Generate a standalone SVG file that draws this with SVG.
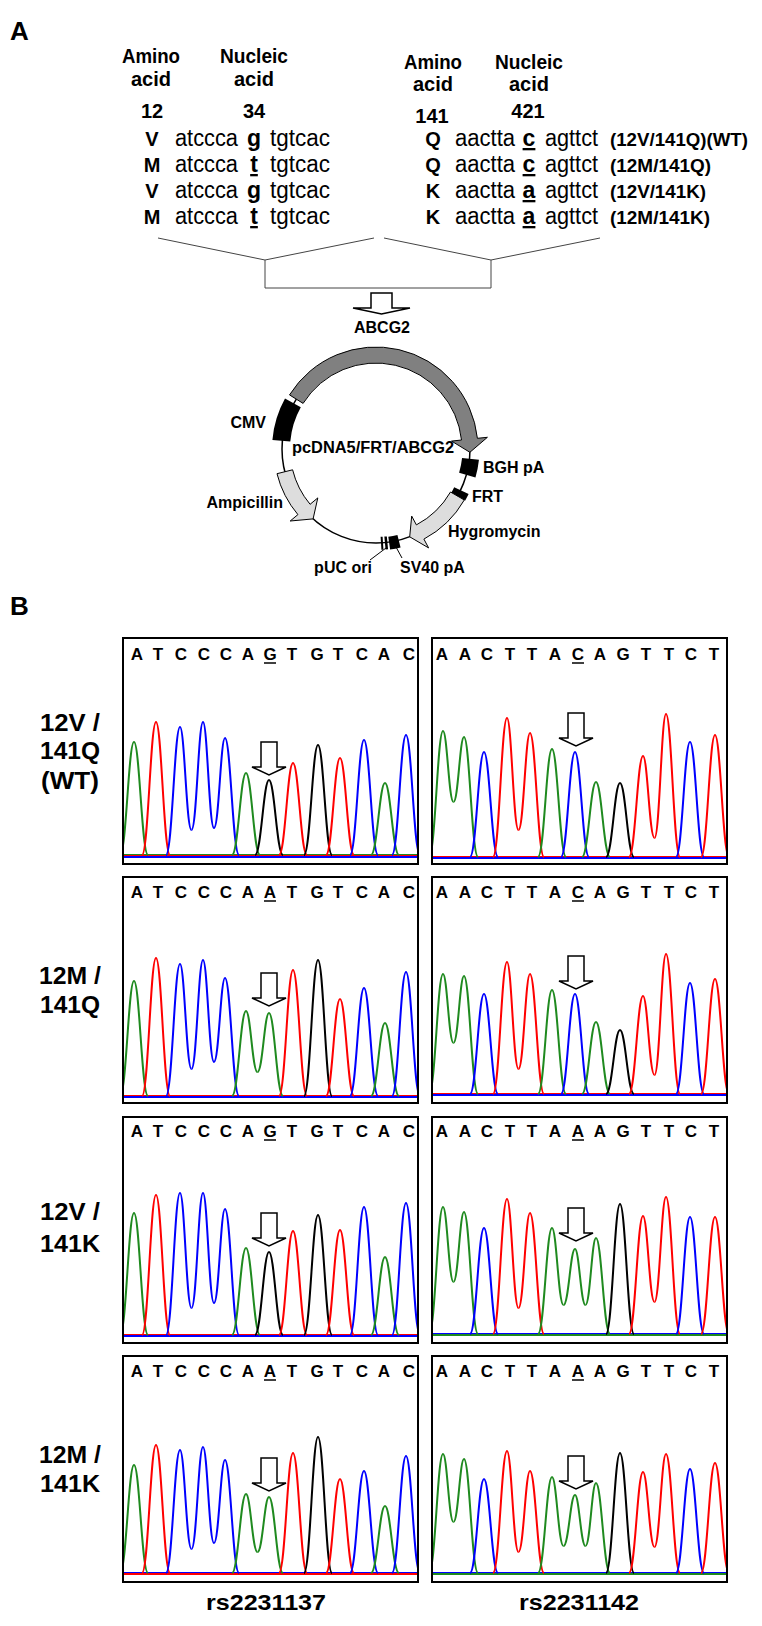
<svg xmlns="http://www.w3.org/2000/svg" xmlns:xlink="http://www.w3.org/1999/xlink" width="762" height="1626" viewBox="0 0 762 1626">
<style>
text{font-family:"Liberation Sans",Arial,sans-serif;fill:#000}
.b{font-weight:bold}
.hd{font-size:20px;font-weight:bold;text-anchor:middle}
.sq{font-size:23px}
.ul{font-size:23px;font-weight:bold;text-decoration:underline;text-anchor:middle}
.lab{font-size:19px;font-weight:bold}
.pl{font-size:16px;font-weight:bold}
.seq{font-size:17px;font-weight:bold;text-anchor:middle}
.side{font-size:24px;font-weight:bold;text-anchor:middle}
.box{fill:none;stroke:#000;stroke-width:2}
.g{stroke:#1f8a1f}.r{stroke:#f00}.u{stroke:#00f}.k{stroke:#000}
.tr use{fill:none;stroke-width:2}
.br{fill:none;stroke:#444;stroke-width:1}
</style>
<defs>
<path id="P" d="M -1,0 C -0.55,0 -0.4,-1 0,-1 C 0.4,-1 0.55,0 1,0" vector-effect="non-scaling-stroke"/>
<path id="L" d="M -1,0 C -0.55,0 -0.4,-1 0,-1" vector-effect="non-scaling-stroke"/>
<path id="R" d="M 0,-1 C 0.4,-1 0.55,0 1,0" vector-effect="non-scaling-stroke"/>
<path id="arr" d="M -8,0 H 8 V 25 H 17 L 0,33 L -17,25 H -8 Z" fill="#fff" stroke="#000" stroke-width="1.5"/>
<clipPath id="c1l"><rect x="124" y="639" width="293" height="224"/></clipPath>
<clipPath id="c1r"><rect x="433" y="639" width="293" height="224"/></clipPath>
<clipPath id="c2l"><rect x="124" y="878" width="293" height="224"/></clipPath>
<clipPath id="c2r"><rect x="433" y="878" width="293" height="224"/></clipPath>
<clipPath id="c3l"><rect x="124" y="1118" width="293" height="224"/></clipPath>
<clipPath id="c3r"><rect x="433" y="1118" width="293" height="224"/></clipPath>
<clipPath id="c4l"><rect x="124" y="1357" width="293" height="224"/></clipPath>
<clipPath id="c4r"><rect x="433" y="1357" width="293" height="224"/></clipPath>
</defs>

<!-- Panel A -->
<text x="10" y="40" class="b" font-size="26">A</text>
<g id="headers">
<text x="151" y="63" class="hd" textLength="58" lengthAdjust="spacingAndGlyphs">Amino</text>
<text x="151" y="86" class="hd">acid</text>
<text x="254" y="63" class="hd" textLength="68" lengthAdjust="spacingAndGlyphs">Nucleic</text>
<text x="254" y="86" class="hd">acid</text>
<text x="433" y="69" class="hd" textLength="58" lengthAdjust="spacingAndGlyphs">Amino</text>
<text x="433" y="91" class="hd">acid</text>
<text x="529" y="69" class="hd" textLength="68" lengthAdjust="spacingAndGlyphs">Nucleic</text>
<text x="529" y="91" class="hd">acid</text>
<text x="152" y="118" class="hd">12</text>
<text x="254" y="118" class="hd">34</text>
<text x="432" y="123" class="hd">141</text>
<text x="528" y="118" class="hd">421</text>
</g>
<g id="seq-left">
<text x="152" y="146" class="hd" font-size="22">V</text>
<text x="175" y="146" class="sq" textLength="63" lengthAdjust="spacingAndGlyphs">atccca</text>
<text x="254" y="146" class="ul">g</text>
<text x="270" y="146" class="sq" textLength="60" lengthAdjust="spacingAndGlyphs">tgtcac</text>
<text x="152" y="172" class="hd" font-size="22">M</text>
<text x="175" y="172" class="sq" textLength="63" lengthAdjust="spacingAndGlyphs">atccca</text>
<text x="254" y="172" class="ul">t</text>
<text x="270" y="172" class="sq" textLength="60" lengthAdjust="spacingAndGlyphs">tgtcac</text>
<text x="152" y="198" class="hd" font-size="22">V</text>
<text x="175" y="198" class="sq" textLength="63" lengthAdjust="spacingAndGlyphs">atccca</text>
<text x="254" y="198" class="ul">g</text>
<text x="270" y="198" class="sq" textLength="60" lengthAdjust="spacingAndGlyphs">tgtcac</text>
<text x="152" y="224" class="hd" font-size="22">M</text>
<text x="175" y="224" class="sq" textLength="63" lengthAdjust="spacingAndGlyphs">atccca</text>
<text x="254" y="224" class="ul">t</text>
<text x="270" y="224" class="sq" textLength="60" lengthAdjust="spacingAndGlyphs">tgtcac</text>
</g>
<g id="seq-right">
<text x="433" y="146" class="hd" font-size="22">Q</text>
<text x="455" y="146" class="sq" textLength="60" lengthAdjust="spacingAndGlyphs">aactta</text>
<text x="529" y="146" class="ul">c</text>
<text x="545" y="146" class="sq" textLength="53" lengthAdjust="spacingAndGlyphs">agttct</text>
<text x="610" y="146" class="lab" textLength="138" lengthAdjust="spacingAndGlyphs">(12V/141Q)(WT)</text>
<text x="433" y="172" class="hd" font-size="22">Q</text>
<text x="455" y="172" class="sq" textLength="60" lengthAdjust="spacingAndGlyphs">aactta</text>
<text x="529" y="172" class="ul">c</text>
<text x="545" y="172" class="sq" textLength="53" lengthAdjust="spacingAndGlyphs">agttct</text>
<text x="610" y="172" class="lab" textLength="101" lengthAdjust="spacingAndGlyphs">(12M/141Q)</text>
<text x="433" y="198" class="hd" font-size="22">K</text>
<text x="455" y="198" class="sq" textLength="60" lengthAdjust="spacingAndGlyphs">aactta</text>
<text x="529" y="198" class="ul">a</text>
<text x="545" y="198" class="sq" textLength="53" lengthAdjust="spacingAndGlyphs">agttct</text>
<text x="610" y="198" class="lab" textLength="96" lengthAdjust="spacingAndGlyphs">(12V/141K)</text>
<text x="433" y="224" class="hd" font-size="22">K</text>
<text x="455" y="224" class="sq" textLength="60" lengthAdjust="spacingAndGlyphs">aactta</text>
<text x="529" y="224" class="ul">a</text>
<text x="545" y="224" class="sq" textLength="53" lengthAdjust="spacingAndGlyphs">agttct</text>
<text x="610" y="224" class="lab" textLength="100" lengthAdjust="spacingAndGlyphs">(12M/141K)</text>
</g>
<g id="connectors">
<polyline class="br" points="158,238 265,260 374,238"/>
<polyline class="br" points="384,238 491,260 600,238"/>
<polyline class="br" points="265,260 265,288 491,288 491,260"/>
<path d="M 371,293 H 392 V 308 H 410 L 381.5,314 L 353,308 H 371 Z" fill="#fff" stroke="#000" stroke-width="1.5"/>
</g>

<g id="plasmid">
<circle cx="376" cy="449" r="94" fill="none" stroke="#000" stroke-width="1.5"/>
<path d="M 289.5,394.9 A 102 102 0 0 1 477.4,438.3 L 487.4,437.3 L 469.9,452.3 L 451.6,441.1 L 461.5,440.0 A 86 86 0 0 0 303.1,403.4 Z" fill="#808080" stroke="#000" stroke-width="1"/>
<path d="M 285,398.6 A 104 104 0 0 0 272.4,439.9 L 290.3,441.5 A 86 86 0 0 1 300.8,407.3 Z" fill="#000"/>
<path d="M 277,473.7 A 102 102 0 0 0 297.9,514.6 L 290.2,521 L 313.1,518.9 L 317.8,497.9 L 310.1,504.3 A 86 86 0 0 1 292.6,469.8 Z" fill="#ddd" stroke="#000" stroke-width="1"/>
<path d="M 464.3,500 A 102 102 0 0 1 423.9,539.1 L 428.6,547.9 L 409.7,536.8 L 411.7,516.1 L 416.4,524.9 A 86 86 0 0 0 450.5,492 Z" fill="#ddd" stroke="#000" stroke-width="1"/>
<path d="M 470.5,458.9 A 95 95 0 0 1 467.3,475.2" fill="none" stroke="#000" stroke-width="17"/>
<path d="M 461.4,490.6 A 95 95 0 0 1 458.3,496.5" fill="none" stroke="#000" stroke-width="16"/>
<path d="M 399,541.2 A 95 95 0 0 1 389.2,543.1" fill="none" stroke="#000" stroke-width="13"/>
<line x1="385.6" y1="536.5" x2="386.8" y2="549.4" stroke="#000" stroke-width="2.5"/>
<line x1="381.6" y1="536.8" x2="382.4" y2="549.8" stroke="#000" stroke-width="2"/>
<line x1="386" y1="548" x2="370" y2="560" stroke="#000" stroke-width="1"/>
<line x1="396" y1="547" x2="402" y2="558" stroke="#000" stroke-width="1"/>
<text x="382" y="333" class="pl" text-anchor="middle">ABCG2</text>
<text x="266" y="428" class="pl" text-anchor="end">CMV</text>
<text x="292" y="453" class="pl" textLength="162" lengthAdjust="spacingAndGlyphs">pcDNA5/FRT/ABCG2</text>
<text x="483" y="473" class="pl">BGH pA</text>
<text x="472" y="502" class="pl">FRT</text>
<text x="283" y="508" class="pl" text-anchor="end">Ampicillin</text>
<text x="448" y="537" class="pl">Hygromycin</text>
<text x="343" y="573" class="pl" text-anchor="middle">pUC ori</text>
<text x="400" y="573" class="pl">SV40 pA</text>
</g>

<!-- Panel B -->
<text x="10" y="615" class="b" font-size="26">B</text>
<g id="side-labels">
<text x="70" y="731" class="side" textLength="60" lengthAdjust="spacingAndGlyphs">12V /</text>
<text x="70" y="759" class="side" textLength="60" lengthAdjust="spacingAndGlyphs">141Q</text>
<text x="70" y="789" class="side" textLength="58" lengthAdjust="spacingAndGlyphs">(WT)</text>
<text x="70" y="984" class="side" textLength="62" lengthAdjust="spacingAndGlyphs">12M /</text>
<text x="70" y="1013" class="side" textLength="60" lengthAdjust="spacingAndGlyphs">141Q</text>
<text x="70" y="1220" class="side" textLength="60" lengthAdjust="spacingAndGlyphs">12V /</text>
<text x="70" y="1252" class="side" textLength="60" lengthAdjust="spacingAndGlyphs">141K</text>
<text x="70" y="1463" class="side" textLength="62" lengthAdjust="spacingAndGlyphs">12M /</text>
<text x="70" y="1492" class="side" textLength="60" lengthAdjust="spacingAndGlyphs">141K</text>
</g>

<!-- Row 1 left -->
<g id="r1l">
<g clip-path="url(#c1l)">
<line x1="123" y1="855" x2="418" y2="855" class="g" stroke-width="2"/>
<line x1="123" y1="856" x2="418" y2="856" class="r" stroke-width="2"/>
<line x1="123" y1="857" x2="418" y2="857" class="u" stroke-width="2"/>
<g class="tr">
<use href="#P" class="g" transform="translate(134,855) scale(14,113)"/>
<use href="#P" class="r" transform="translate(156,855) scale(14,133)"/>
<use href="#L" class="u" transform="translate(180,855) scale(14,128)"/>
<use href="#R" class="u" transform="translate(180,830) scale(11.5,103)"/>
<use href="#L" class="u" transform="translate(203,830) scale(11.5,108)"/>
<use href="#R" class="u" transform="translate(203,828) scale(11,106)"/>
<use href="#L" class="u" transform="translate(225,828) scale(11,90)"/>
<use href="#R" class="u" transform="translate(225,855) scale(14,117)"/>
<use href="#P" class="g" transform="translate(246,855) scale(14,82)"/>
<use href="#P" class="k" transform="translate(269,855) scale(14,75)"/>
<use href="#P" class="r" transform="translate(293,855) scale(14,92)"/>
<use href="#P" class="k" transform="translate(318,855) scale(14,110)"/>
<use href="#P" class="r" transform="translate(340,855) scale(14,97)"/>
<use href="#P" class="u" transform="translate(364,855) scale(14,115)"/>
<use href="#P" class="g" transform="translate(385,855) scale(14,72)"/>
<use href="#P" class="u" transform="translate(406,855) scale(14,120)"/>
</g></g>
<rect x="123" y="638" width="295" height="226" class="box"/>
<text y="660" class="seq" x="137 158 181 204 226 248 270 292 317 338 362 384 409">ATCCCAGTGTCAC</text>
<line x1="264" y1="663" x2="276" y2="663" stroke="#000" stroke-width="1.5"/>
<use href="#arr" x="269" y="742"/>
</g>
<!-- Row 1 right -->
<g id="r1r">
<g clip-path="url(#c1r)">
<line x1="432" y1="857" x2="727" y2="857" class="r" stroke-width="2"/>
<line x1="432" y1="858" x2="727" y2="858" class="u" stroke-width="2"/>
<g class="tr">
<use href="#L" class="g" transform="translate(443,857) scale(14,126)"/>
<use href="#R" class="g" transform="translate(443,802) scale(10.5,71)"/>
<use href="#L" class="g" transform="translate(464,802) scale(10.5,65)"/>
<use href="#R" class="g" transform="translate(464,857) scale(14,120)"/>
<use href="#P" class="u" transform="translate(484,857) scale(14,105)"/>
<use href="#L" class="r" transform="translate(507,857) scale(14,139)"/>
<use href="#R" class="r" transform="translate(507,830) scale(11.5,112)"/>
<use href="#L" class="r" transform="translate(530,830) scale(11.5,97)"/>
<use href="#R" class="r" transform="translate(530,857) scale(14,124)"/>
<use href="#P" class="g" transform="translate(552,857) scale(14,108)"/>
<use href="#P" class="u" transform="translate(575,857) scale(14,105)"/>
<use href="#P" class="g" transform="translate(596,857) scale(14,75)"/>
<use href="#P" class="k" transform="translate(620,857) scale(14,74)"/>
<use href="#L" class="r" transform="translate(643,857) scale(14,101)"/>
<use href="#R" class="r" transform="translate(643,838) scale(11.5,82)"/>
<use href="#L" class="r" transform="translate(666,838) scale(11.5,124)"/>
<use href="#R" class="r" transform="translate(666,857) scale(14,143)"/>
<use href="#P" class="u" transform="translate(690,857) scale(14,115)"/>
<use href="#P" class="r" transform="translate(715,857) scale(14,122)"/>
</g></g>
<rect x="432" y="638" width="295" height="226" class="box"/>
<text y="660" class="seq" x="442 465 487 510 532 555 578 600 623 646 669 691 714">AACTTACAGTTCT</text>
<line x1="572" y1="663" x2="584" y2="663" stroke="#000" stroke-width="1.5"/>
<use href="#arr" x="576" y="713"/>
</g>

<!-- Row 2 left -->
<g id="r2l">
<g clip-path="url(#c2l)">
<line x1="123" y1="1096" x2="418" y2="1096" class="r" stroke-width="2"/>
<line x1="123" y1="1097" x2="418" y2="1097" class="u" stroke-width="2"/>
<g class="tr">
<use href="#P" class="g" transform="translate(134,1096) scale(14,115)"/>
<use href="#P" class="r" transform="translate(156,1096) scale(14,138)"/>
<use href="#L" class="u" transform="translate(180,1096) scale(14,132)"/>
<use href="#R" class="u" transform="translate(180,1069) scale(11.5,105)"/>
<use href="#L" class="u" transform="translate(203,1069) scale(11.5,109)"/>
<use href="#R" class="u" transform="translate(203,1062) scale(11,102)"/>
<use href="#L" class="u" transform="translate(225,1062) scale(11,84)"/>
<use href="#R" class="u" transform="translate(225,1096) scale(14,118)"/>
<use href="#L" class="g" transform="translate(246,1096) scale(14,85)"/>
<use href="#R" class="g" transform="translate(246,1072) scale(11.5,61)"/>
<use href="#L" class="g" transform="translate(269,1072) scale(11.5,59)"/>
<use href="#R" class="g" transform="translate(269,1096) scale(14,83)"/>
<use href="#P" class="r" transform="translate(293,1096) scale(14,126)"/>
<use href="#P" class="k" transform="translate(318,1096) scale(14,136)"/>
<use href="#P" class="r" transform="translate(340,1096) scale(14,97)"/>
<use href="#P" class="u" transform="translate(364,1096) scale(14,108)"/>
<use href="#P" class="g" transform="translate(385,1096) scale(14,73)"/>
<use href="#P" class="u" transform="translate(406,1096) scale(14,124)"/>
</g></g>
<rect x="123" y="877" width="295" height="226" class="box"/>
<text y="898" class="seq" x="137 158 181 204 226 248 270 292 317 338 362 384 409">ATCCCAATGTCAC</text>
<line x1="264" y1="901" x2="276" y2="901" stroke="#000" stroke-width="1.5"/>
<use href="#arr" x="269" y="973"/>
</g>
<!-- Row 2 right -->
<g id="r2r">
<g clip-path="url(#c2r)">
<line x1="432" y1="1094" x2="727" y2="1094" class="r" stroke-width="2"/>
<line x1="432" y1="1095" x2="727" y2="1095" class="u" stroke-width="2"/>
<g class="tr">
<use href="#L" class="g" transform="translate(443,1094) scale(14,120)"/>
<use href="#R" class="g" transform="translate(443,1043) scale(10.5,69)"/>
<use href="#L" class="g" transform="translate(464,1043) scale(10.5,67)"/>
<use href="#R" class="g" transform="translate(464,1094) scale(14,118)"/>
<use href="#P" class="u" transform="translate(484,1094) scale(14,100)"/>
<use href="#L" class="r" transform="translate(507,1094) scale(14,132)"/>
<use href="#R" class="r" transform="translate(507,1069) scale(11.5,107)"/>
<use href="#L" class="r" transform="translate(530,1069) scale(11.5,95)"/>
<use href="#R" class="r" transform="translate(530,1094) scale(14,120)"/>
<use href="#P" class="g" transform="translate(552,1094) scale(14,104)"/>
<use href="#P" class="u" transform="translate(575,1094) scale(14,100)"/>
<use href="#P" class="g" transform="translate(596,1094) scale(14,72)"/>
<use href="#P" class="k" transform="translate(620,1094) scale(14,64)"/>
<use href="#L" class="r" transform="translate(643,1094) scale(14,98)"/>
<use href="#R" class="r" transform="translate(643,1075) scale(11.5,79)"/>
<use href="#L" class="r" transform="translate(666,1075) scale(11.5,121)"/>
<use href="#R" class="r" transform="translate(666,1094) scale(14,140)"/>
<use href="#P" class="u" transform="translate(690,1094) scale(14,111)"/>
<use href="#P" class="r" transform="translate(715,1094) scale(14,115)"/>
</g></g>
<rect x="432" y="877" width="295" height="226" class="box"/>
<text y="898" class="seq" x="442 465 487 510 532 555 578 600 623 646 669 691 714">AACTTACAGTTCT</text>
<line x1="572" y1="901" x2="584" y2="901" stroke="#000" stroke-width="1.5"/>
<use href="#arr" x="576" y="956"/>
</g>

<!-- Row 3 left -->
<g id="r3l">
<g clip-path="url(#c3l)">
<line x1="123" y1="1335" x2="418" y2="1335" class="r" stroke-width="2"/>
<line x1="123" y1="1336" x2="418" y2="1336" class="u" stroke-width="2"/>
<g class="tr">
<use href="#P" class="g" transform="translate(134,1335) scale(14,122)"/>
<use href="#P" class="r" transform="translate(156,1335) scale(14,140)"/>
<use href="#L" class="u" transform="translate(180,1335) scale(14,142)"/>
<use href="#R" class="u" transform="translate(180,1308) scale(11.5,115)"/>
<use href="#L" class="u" transform="translate(203,1308) scale(11.5,115)"/>
<use href="#R" class="u" transform="translate(203,1303) scale(11,110)"/>
<use href="#L" class="u" transform="translate(225,1303) scale(11,94)"/>
<use href="#R" class="u" transform="translate(225,1335) scale(14,126)"/>
<use href="#P" class="g" transform="translate(246,1335) scale(14,87)"/>
<use href="#P" class="k" transform="translate(269,1335) scale(14,83)"/>
<use href="#P" class="r" transform="translate(293,1335) scale(14,104)"/>
<use href="#P" class="k" transform="translate(318,1335) scale(14,120)"/>
<use href="#P" class="r" transform="translate(340,1335) scale(14,105)"/>
<use href="#P" class="u" transform="translate(364,1335) scale(14,128)"/>
<use href="#P" class="g" transform="translate(385,1335) scale(14,78)"/>
<use href="#P" class="u" transform="translate(406,1335) scale(14,132)"/>
</g></g>
<rect x="123" y="1117" width="295" height="226" class="box"/>
<text y="1137" class="seq" x="137 158 181 204 226 248 270 292 317 338 362 384 409">ATCCCAGTGTCAC</text>
<line x1="264" y1="1140" x2="276" y2="1140" stroke="#000" stroke-width="1.5"/>
<use href="#arr" x="269" y="1213"/>
</g>
<!-- Row 3 right -->
<g id="r3r">
<g clip-path="url(#c3r)">
<line x1="432" y1="1334" x2="727" y2="1334" class="u" stroke-width="2"/>
<line x1="432" y1="1335" x2="727" y2="1335" class="g" stroke-width="2"/>
<g class="tr">
<use href="#L" class="g" transform="translate(443,1334) scale(14,127)"/>
<use href="#R" class="g" transform="translate(443,1282) scale(10.5,75)"/>
<use href="#L" class="g" transform="translate(464,1282) scale(10.5,70)"/>
<use href="#R" class="g" transform="translate(464,1334) scale(14,122)"/>
<use href="#P" class="u" transform="translate(484,1334) scale(14,106)"/>
<use href="#L" class="r" transform="translate(507,1334) scale(14,135)"/>
<use href="#R" class="r" transform="translate(507,1308) scale(11.5,109)"/>
<use href="#L" class="r" transform="translate(530,1308) scale(11.5,95)"/>
<use href="#R" class="r" transform="translate(530,1334) scale(14,121)"/>
<use href="#L" class="g" transform="translate(552,1334) scale(14,106)"/>
<use href="#R" class="g" transform="translate(552,1305) scale(11.5,77)"/>
<use href="#L" class="g" transform="translate(575,1305) scale(11.5,56)"/>
<use href="#R" class="g" transform="translate(575,1305) scale(10.5,56)"/>
<use href="#L" class="g" transform="translate(596,1305) scale(10.5,67)"/>
<use href="#R" class="g" transform="translate(596,1334) scale(14,96)"/>
<use href="#P" class="k" transform="translate(620,1334) scale(14,130)"/>
<use href="#L" class="r" transform="translate(643,1334) scale(14,118)"/>
<use href="#R" class="r" transform="translate(643,1302) scale(11.5,86)"/>
<use href="#L" class="r" transform="translate(666,1302) scale(11.5,105)"/>
<use href="#R" class="r" transform="translate(666,1334) scale(14,137)"/>
<use href="#P" class="u" transform="translate(690,1334) scale(14,117)"/>
<use href="#P" class="r" transform="translate(715,1334) scale(14,117)"/>
</g></g>
<rect x="432" y="1117" width="295" height="226" class="box"/>
<text y="1137" class="seq" x="442 465 487 510 532 555 578 600 623 646 669 691 714">AACTTAAAGTTCT</text>
<line x1="572" y1="1140" x2="584" y2="1140" stroke="#000" stroke-width="1.5"/>
<use href="#arr" x="576" y="1208"/>
</g>

<!-- Row 4 left -->
<g id="r4l">
<g clip-path="url(#c4l)">
<line x1="123" y1="1573" x2="418" y2="1573" class="u" stroke-width="2"/>
<line x1="123" y1="1574" x2="418" y2="1574" class="r" stroke-width="2"/>
<g class="tr">
<use href="#P" class="g" transform="translate(134,1573) scale(14,108)"/>
<use href="#P" class="r" transform="translate(156,1573) scale(14,128)"/>
<use href="#L" class="u" transform="translate(180,1573) scale(14,123)"/>
<use href="#R" class="u" transform="translate(180,1549) scale(11.5,99)"/>
<use href="#L" class="u" transform="translate(203,1549) scale(11.5,102)"/>
<use href="#R" class="u" transform="translate(203,1543) scale(11,96)"/>
<use href="#L" class="u" transform="translate(225,1543) scale(11,83)"/>
<use href="#R" class="u" transform="translate(225,1573) scale(14,113)"/>
<use href="#L" class="g" transform="translate(246,1573) scale(14,79)"/>
<use href="#R" class="g" transform="translate(246,1552) scale(11.5,58)"/>
<use href="#L" class="g" transform="translate(269,1552) scale(11.5,55)"/>
<use href="#R" class="g" transform="translate(269,1573) scale(14,76)"/>
<use href="#P" class="r" transform="translate(293,1573) scale(14,120)"/>
<use href="#P" class="k" transform="translate(318,1573) scale(14,136)"/>
<use href="#P" class="r" transform="translate(340,1573) scale(14,94)"/>
<use href="#P" class="u" transform="translate(364,1573) scale(14,102)"/>
<use href="#P" class="g" transform="translate(385,1573) scale(14,67)"/>
<use href="#P" class="u" transform="translate(406,1573) scale(14,117)"/>
</g></g>
<rect x="123" y="1356" width="295" height="226" class="box"/>
<text y="1377" class="seq" x="137 158 181 204 226 248 270 292 317 338 362 384 409">ATCCCAATGTCAC</text>
<line x1="264" y1="1380" x2="276" y2="1380" stroke="#000" stroke-width="1.5"/>
<use href="#arr" x="269" y="1458"/>
</g>
<!-- Row 4 right -->
<g id="r4r">
<g clip-path="url(#c4r)">
<line x1="432" y1="1573" x2="727" y2="1573" class="u" stroke-width="2"/>
<line x1="432" y1="1574" x2="727" y2="1574" class="g" stroke-width="2"/>
<g class="tr">
<use href="#L" class="g" transform="translate(443,1573) scale(14,119)"/>
<use href="#R" class="g" transform="translate(443,1522) scale(10.5,68)"/>
<use href="#L" class="g" transform="translate(464,1522) scale(10.5,63)"/>
<use href="#R" class="g" transform="translate(464,1573) scale(14,114)"/>
<use href="#P" class="u" transform="translate(484,1573) scale(14,94)"/>
<use href="#L" class="r" transform="translate(507,1573) scale(14,122)"/>
<use href="#R" class="r" transform="translate(507,1552) scale(11.5,101)"/>
<use href="#L" class="r" transform="translate(530,1552) scale(11.5,81)"/>
<use href="#R" class="r" transform="translate(530,1573) scale(14,102)"/>
<use href="#L" class="g" transform="translate(552,1573) scale(14,96)"/>
<use href="#R" class="g" transform="translate(552,1546) scale(11.5,69)"/>
<use href="#L" class="g" transform="translate(575,1546) scale(11.5,51)"/>
<use href="#R" class="g" transform="translate(575,1546) scale(10.5,51)"/>
<use href="#L" class="g" transform="translate(596,1546) scale(10.5,63)"/>
<use href="#R" class="g" transform="translate(596,1573) scale(14,90)"/>
<use href="#P" class="k" transform="translate(620,1573) scale(14,120)"/>
<use href="#L" class="r" transform="translate(643,1573) scale(14,101)"/>
<use href="#R" class="r" transform="translate(643,1547) scale(11.5,75)"/>
<use href="#L" class="r" transform="translate(666,1547) scale(11.5,93)"/>
<use href="#R" class="r" transform="translate(666,1573) scale(14,119)"/>
<use href="#P" class="u" transform="translate(690,1573) scale(14,104)"/>
<use href="#P" class="r" transform="translate(715,1573) scale(14,110)"/>
</g></g>
<rect x="432" y="1356" width="295" height="226" class="box"/>
<text y="1377" class="seq" x="442 465 487 510 532 555 578 600 623 646 669 691 714">AACTTAAAGTTCT</text>
<line x1="572" y1="1380" x2="584" y2="1380" stroke="#000" stroke-width="1.5"/>
<use href="#arr" x="576" y="1456"/>
</g>

<text x="266" y="1610" font-size="22" class="b" text-anchor="middle" textLength="120" lengthAdjust="spacingAndGlyphs">rs2231137</text>
<text x="579" y="1610" font-size="22" class="b" text-anchor="middle" textLength="120" lengthAdjust="spacingAndGlyphs">rs2231142</text>
</svg>
